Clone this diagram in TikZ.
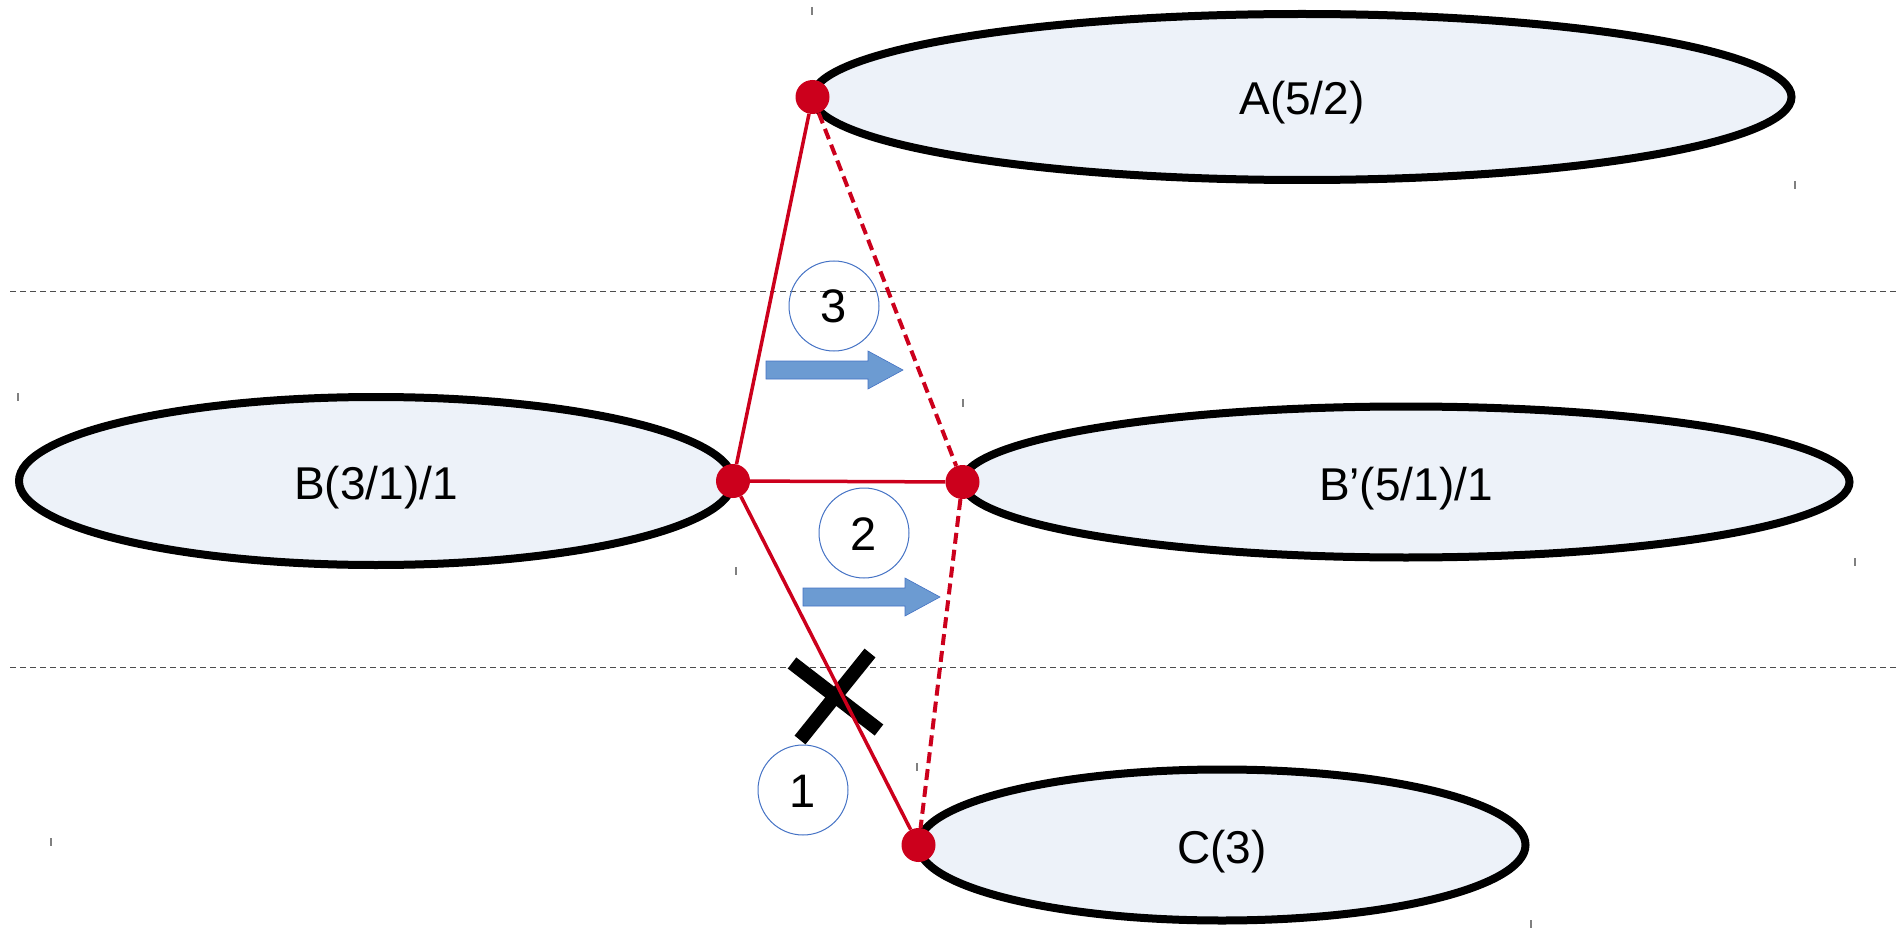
\documentclass[tikz,border=0pt]{standalone}
\usepackage{fontspec}
\setmainfont{Liberation Sans}
\usetikzlibrary{shapes.geometric}
\definecolor{ellfill}{RGB}{237,242,249}
\definecolor{linkred}{RGB}{204,0,28}
\definecolor{ringblue}{RGB}{68,114,196}
\definecolor{arrowblue}{RGB}{108,155,210}
\begin{document}
\begin{tikzpicture}[x=1pt, y=-1pt,
  level/.style={ellipse, draw, line width=8pt, fill=ellfill, inner sep=0pt, outer sep=0pt,
    font=\fontsize{46}{55}\selectfont, text height=36pt, text depth=0pt},
  dot/.style={circle, fill=linkred, inner sep=0pt, minimum size=34pt},
  link/.style={linkred, line width=3.5pt},
  maybe/.style={linkred, line width=4pt, dash pattern=on 11pt off 6pt},
  num/.style={circle, draw=ringblue, line width=1pt, minimum size=90pt, inner sep=0pt,
    font=\fontsize{47}{56}\selectfont, text height=34pt, text depth=0pt},
  sep/.style={gray!60!black, line width=1pt, dash pattern=on 6pt off 4pt}]
\useasboundingbox (0,0) rectangle (1899,928);
\foreach \y in {291,667}
{
    \draw[sep] (10,\y)--(1899,\y);
}
\foreach \x/\y in {812/11,1795/185,18/397,963/403,736/571,1855/562,51/842,1531/924,917/767}
{
    \draw[gray, line width=2pt] (\x,\y-4)--(\x,\y+4);
}
\node[level, minimum width=979pt, minimum height=166pt] (A) at (1302,97) {A(5/2)};
\node[level, minimum width=714pt, minimum height=168pt] (B) at (376,481) {B(3/1)/1};
\node[level, minimum width=887pt, minimum height=151pt] (Bp) at (1406,482) {B’(5/1)/1};
\node[level, minimum width=607pt, minimum height=151pt] (C) at (1222,845) {C(3)};
\node[dot] (a) at (A.west) {};
\node[dot] (b) at (B.east) {};
\node[dot] (bp) at (Bp.west) {};
\node[dot] (c) at (C.west) {};
\node[num] (n3) at (834,306) {3};
\node[num] (n2) at (864,533) {2};
\node[num] (n1) at (803,790) {1};
\foreach \x/\y in {766/370,803/597}
{
    \draw[shift={(\x,\y)}, fill=arrowblue, draw=ringblue, line width=.6pt]
      (0,-9)--(102,-9)--(102,-19)--(137,0)--(102,19)--(102,9)--(0,9)--cycle;
}
\draw[line width=14pt] (792,663)--(879,730) (870,653)--(800,740);
\draw[link] (a)--(b);
\draw[link] (b)--(bp);
\draw[link] (b)--(c);
\draw[maybe] (a)--(bp);
\draw[maybe] (bp)--(c);
\end{tikzpicture}
\end{document}
